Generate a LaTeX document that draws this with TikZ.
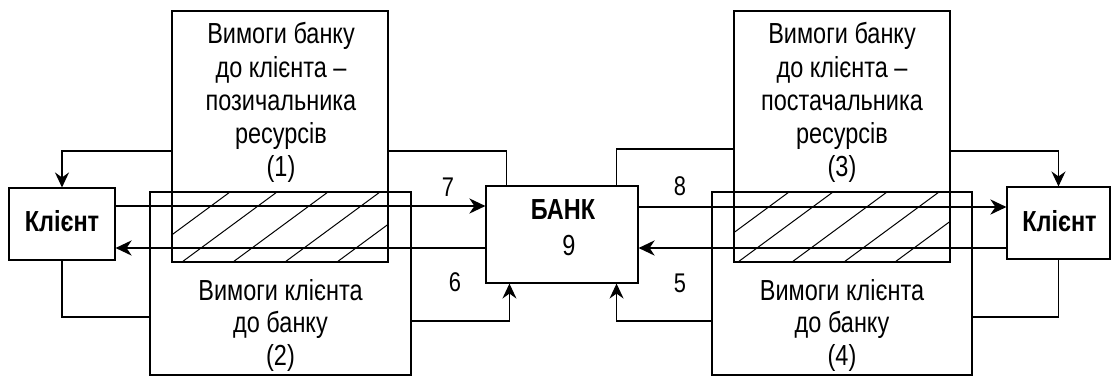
\documentclass[tikz,border=0pt]{standalone}
\usepackage{fontspec}
\setmainfont{Liberation Sans}[FakeStretch=0.81]
\usetikzlibrary{arrows.meta}
\begin{document}
\begin{tikzpicture}[x=1pt,y=-1pt,
  box/.style={draw, line width=1.1pt, inner sep=0pt, anchor=center},
  txt/.style={font=\fontsize{29}{34}\selectfont, anchor=base, inner sep=0pt},
  numtxt/.style={font=\fontsize{27}{32}\selectfont, anchor=base, inner sep=0pt},
  btxt/.style={font=\fontsize{29}{34}\selectfont\bfseries, anchor=base, inner sep=0pt},
  conn/.style={line width=1.2pt},
  arr/.style={line width=1.5pt, -{Stealth[length=15pt,width=14pt,inset=5pt]}},
  mainarr/.style={line width=2.8pt, -{Stealth[length=16pt,width=15pt,inset=5pt]}},
  hatch/.style={line width=1pt}]
\useasboundingbox (0,0) rectangle (1112,376);
% boxes
\node[box, minimum width=106pt, minimum height=72pt] (cl) at (62,224) {};
\node[box, minimum width=216pt, minimum height=251pt] (b1) at (280,136.5) {};
\node[box, minimum width=261pt, minimum height=183pt] (b2) at (280.5,283.5) {};
\node[box, minimum width=152pt, minimum height=97pt] (bank) at (562,234.5) {};
\node[box, minimum width=216pt, minimum height=251pt] (b3) at (842,136.5) {};
\node[box, minimum width=260pt, minimum height=183pt] (b4) at (842,283.5) {};
\node[box, minimum width=103pt, minimum height=72pt] (cr) at (1058.5,223) {};
% hatching
\begin{scope}
  \clip (b1.west |- b2.north) rectangle (b1.south east);
  \foreach \b in {135,182,233,285,337} \draw[hatch] (\b,262) -- ++(95,-70);
\end{scope}
\begin{scope}
  \clip (b3.west |- b4.north) rectangle (b3.south east);
  \foreach \b in {694,738,792,844,895} \draw[hatch] (\b,262) -- ++(95,-70);
\end{scope}
% texts
\node[btxt] (tcl) at (62,231) {Клієнт};
\node[btxt] (tcr) at (1059.5,231) {Клієнт};
\node[btxt] (tbank) at (563,219) {БАНК};
\node[txt] (t9) at (569,255) {9};
\node[txt] (t1a) at (281,43.5) {Вимоги банку};
\node[txt] (t1b) at (281,77.5) {до клієнта –};
\node[txt] (t1c) at (281,110.5) {позичальника};
\node[txt] (t1d) at (281,143.5) {ресурсів};
\node[txt] (t1e) at (281,176.5) {(1)};
\node[txt] (t3a) at (842,43.5) {Вимоги банку};
\node[txt] (t3b) at (842,77.5) {до клієнта –};
\node[txt] (t3c) at (842,110.5) {постачальника};
\node[txt] (t3d) at (842,143.5) {ресурсів};
\node[txt] (t3e) at (842,176.5) {(3)};
\node[txt] (t2a) at (280.5,300) {Вимоги клієнта};
\node[txt] (t2b) at (280.5,332.5) {до банку};
\node[txt] (t2c) at (280.5,365) {(2)};
\node[txt] (t4a) at (842,300) {Вимоги клієнта};
\node[txt] (t4b) at (842,332.5) {до банку};
\node[txt] (t4c) at (842,365) {(4)};
\node[numtxt] (n7) at (448,196) {7};
\node[numtxt] (n6) at (455,291) {6};
\node[numtxt] (n8) at (680,195) {8};
\node[numtxt] (n5) at (680,292) {5};
% connectors
\draw[arr] (b1.west |- 0,151) -| (cl.north);
\draw[conn] (b1.east |- 0,151) -| ([xshift=21pt]bank.north west);
\draw[conn] (cl.south) |- (b2.west |- 0,317);
\draw[arr] (b2.east |- 0,321) -| ([xshift=24pt]bank.south west);
\draw[conn] ([xshift=-22pt]bank.north east) |- (b3.west |- 0,149);
\draw[arr] (b3.east |- 0,151) -| (cr.north);
\draw[conn] (cr.south) |- (b4.east |- 0,317);
\draw[arr] (b4.west |- 0,321) -| ([xshift=-22pt]bank.south east);
% main flows
\draw[mainarr] (cl.east |- 0,206) -- (bank.west |- 0,206);
\draw[mainarr] (bank.west |- 0,248) -- (cl.east |- 0,248);
\draw[mainarr] (bank.east |- 0,207) -- (cr.west |- 0,207);
\draw[mainarr] (cr.west |- 0,248) -- (bank.east |- 0,248);
\end{tikzpicture}
\end{document}
